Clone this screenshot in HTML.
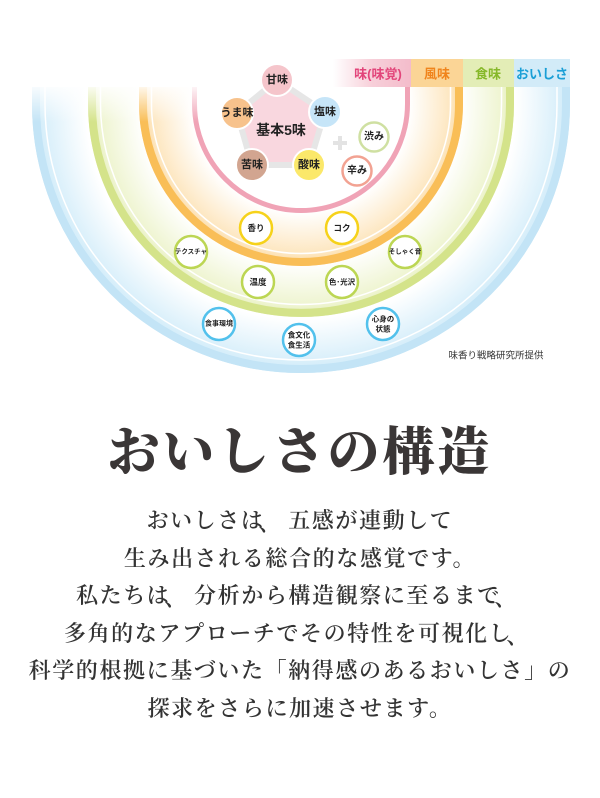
<!DOCTYPE html>
<html lang="ja"><head><meta charset="utf-8"><style>
html,body{margin:0;padding:0;background:#fff;}
body{width:600px;height:798px;position:relative;overflow:hidden;}
svg{position:absolute;left:0;top:0;}
.t{font-family:"Liberation Sans","Noto Sans CJK JP",sans-serif;font-weight:bold;text-anchor:middle;dominant-baseline:central;fill:#222;}
#title{position:absolute;left:0;width:600px;top:422px;text-align:center;font-family:"Liberation Serif","Noto Serif CJK SC",serif;font-weight:900;font-size:52px;letter-spacing:3px;color:#3a3636;line-height:64px;}
#body{position:absolute;left:0;width:600px;top:502px;text-align:center;font-family:"Liberation Serif","Noto Serif CJK SC",serif;font-weight:600;font-size:22px;letter-spacing:1.6px;color:#333;line-height:37.6px;}
.c{position:relative;left:-6px;top:3px;}
</style></head><body>
<svg width="600" height="400" viewBox="0 0 600 400">
<defs>
<radialGradient id="gb" gradientUnits="userSpaceOnUse" cx="301" cy="104" r="269">
<stop offset="0.80" stop-color="#fff"/><stop offset="0.97" stop-color="#d6eefa"/><stop offset="1" stop-color="#c5e6f7"/></radialGradient>
<radialGradient id="gg" gradientUnits="userSpaceOnUse" cx="301" cy="104" r="213">
<stop offset="0.75" stop-color="#fff"/><stop offset="0.95" stop-color="#eef4cf"/><stop offset="1" stop-color="#e2edb5"/></radialGradient>
<radialGradient id="go" gradientUnits="userSpaceOnUse" cx="301" cy="104" r="162">
<stop offset="0.67" stop-color="#fff"/><stop offset="0.93" stop-color="#fde6bf"/><stop offset="1" stop-color="#fbd89c"/></radialGradient>
<linearGradient id="hp" x1="0" x2="1" y1="0" y2="0"><stop offset="0" stop-color="#f7cfd9" stop-opacity="0"/><stop offset="0.5" stop-color="#f7cfd9"/><stop offset="1" stop-color="#f4bccb"/></linearGradient>
<linearGradient id="fade" x1="0" x2="0" y1="0" y2="1"><stop offset="0" stop-color="#fff" stop-opacity="1"/><stop offset="1" stop-color="#fff" stop-opacity="0"/></linearGradient>
</defs>
<path d="M32,87 L32,104 A269,269 0 0 0 570,104 L570,87 Z" fill="url(#gb)"/>
<path d="M88,87 L88,104 A213,213 0 0 0 514,104 L514,87 Z" fill="url(#gg)"/>
<path d="M139,87 L139,104 A162,162 0 0 0 463,104 L463,87 Z" fill="url(#go)"/>
<path d="M192,87 L192,104 A109,109 0 0 0 410,104 L410,87 Z" fill="#fff"/>
<g fill="none">
<path d="M36,87 L36,104 A265,265 0 0 0 566,104 L566,60" stroke="#c3e4f6" stroke-width="8"/>
<path d="M92,87 L92,104 A209,209 0 0 0 510,104 L510,60" stroke="#d4e38a" stroke-width="8"/>
<path d="M143,87 L143,104 A158,158 0 0 0 459,104 L459,60" stroke="#f9be57" stroke-width="8"/>
<path d="M194.5,87 L194.5,104 A106.5,106.5 0 0 0 407.5,104 L407.5,60" stroke="#f0a3b6" stroke-width="5"/>
<path d="M45,87 L45,104 A256,256 0 0 0 557,104 L557,87" stroke="#fff" stroke-width="1.5"/>
<path d="M100.5,87 L100.5,104 A200.5,200.5 0 0 0 501.5,104 L501.5,87" stroke="#fff" stroke-width="1.5"/>
<path d="M151.5,87 L151.5,104 A149.5,149.5 0 0 0 450.5,104 L450.5,87" stroke="#fff" stroke-width="1.5"/>
</g>
<rect x="0" y="82" width="200" height="40" fill="url(#fade)"/>
<rect x="333" y="59" width="78" height="28" fill="url(#hp)"/>
<rect x="411" y="59" width="52" height="28" fill="#fbd596"/>
<rect x="463" y="59" width="51" height="28" fill="#e3edb6"/>
<rect x="514" y="59" width="56" height="28" fill="#d2ebf8"/>
<text class="t" x="378" y="74" font-size="13" style="fill:#e2457a">味(味覚)</text>
<text class="t" x="437" y="74" font-size="13" style="fill:#f0841c">風味</text>
<text class="t" x="488" y="74" font-size="13" style="fill:#86b829">食味</text>
<text class="t" x="542" y="74" font-size="13" style="fill:#1a9fd6">おいしさ</text>
<polygon points="277,80 325,112 309,165 252,165 237,113" fill="#f9d7df" stroke="#e6e6e6" stroke-width="6" stroke-linejoin="round"/>
<circle cx="277" cy="80" r="16" fill="#f5c5cb" stroke="#fff" stroke-width="2"/>
<circle cx="237" cy="113" r="16" fill="#f7c28c" stroke="#fff" stroke-width="2"/>
<circle cx="325" cy="112" r="16" fill="#c6e5f8" stroke="#fff" stroke-width="2"/>
<circle cx="252" cy="165" r="16" fill="#d2a590" stroke="#fff" stroke-width="2"/>
<circle cx="309" cy="165" r="16" fill="#fbe86a" stroke="#fff" stroke-width="2"/>
<text class="t" x="277" y="80" font-size="11">甘味</text>
<text class="t" x="237" y="113" font-size="11">うま味</text>
<text class="t" x="325" y="112" font-size="11">塩味</text>
<text class="t" x="252" y="165" font-size="11">苦味</text>
<text class="t" x="309" y="165" font-size="11">酸味</text>
<text class="t" x="281" y="130" font-size="14">基本5味</text>
<path d="M340,136 v14 M333,143 h14" stroke="#e3e3e3" stroke-width="4"/>
<circle cx="374" cy="137" r="14.5" fill="#fff" stroke="#cfe0a2" stroke-width="2.5"/>
<circle cx="357" cy="171" r="14.5" fill="#fff" stroke="#f2a292" stroke-width="2.5"/>
<text class="t" x="374" y="137" font-size="10">渋み</text>
<text class="t" x="357" y="171" font-size="10">辛み</text>
<g fill="#fff" stroke-width="2.5">
<circle cx="256" cy="228" r="16" stroke="#f6d21a"/>
<circle cx="342" cy="228" r="16" stroke="#f6d21a"/>
<circle cx="191" cy="252" r="16" stroke="#bcd653"/>
<circle cx="405" cy="252" r="16" stroke="#bcd653"/>
<circle cx="258" cy="282" r="16" stroke="#bcd653"/>
<circle cx="342" cy="282" r="16" stroke="#bcd653"/>
<circle cx="219" cy="324" r="16" stroke="#52c1ec"/>
<circle cx="299" cy="340" r="16" stroke="#52c1ec"/>
<circle cx="383" cy="324" r="16" stroke="#52c1ec"/>
</g>
<text class="t" x="256" y="228" font-size="8.5">香り</text>
<text class="t" x="342" y="228" font-size="8.5">コク</text>
<text class="t" x="191" y="252" font-size="6.5">テクスチャ</text>
<text class="t" x="405" y="252" font-size="6.5">そしゃく音</text>
<text class="t" x="258" y="282" font-size="8.5">温度</text>
<text class="t" x="342" y="282" font-size="7.5">色･光沢</text>
<text class="t" x="219" y="324" font-size="7">食事環境</text>
<text class="t" x="299" y="335" font-size="7.5">食文化</text>
<text class="t" x="299" y="345" font-size="7.5">食生活</text>
<text class="t" x="383" y="319" font-size="7.5">心身の</text>
<text class="t" x="383" y="329" font-size="7.5">状態</text>
<text x="496" y="356" font-size="9.5" text-anchor="middle" dominant-baseline="central" fill="#333" font-family="Liberation Sans, Noto Sans CJK JP, sans-serif">味香り戦略研究所提供</text>
</svg>
<div id="title">おいしさの構造</div>
<div id="body">おいしさは<span class="c">、</span>五感が連動して<br>生み出される総合的な感覚です。<br>私たちは<span class="c">、</span>分析から構造観察に至るまで<span class="c">、</span><br>多角的なアプローチでその特性を可視化し<span class="c">、</span><br>科学的根拠に基づいた「納得感のあるおいしさ」の<br>探求をさらに加速させます。</div>
</body></html>
